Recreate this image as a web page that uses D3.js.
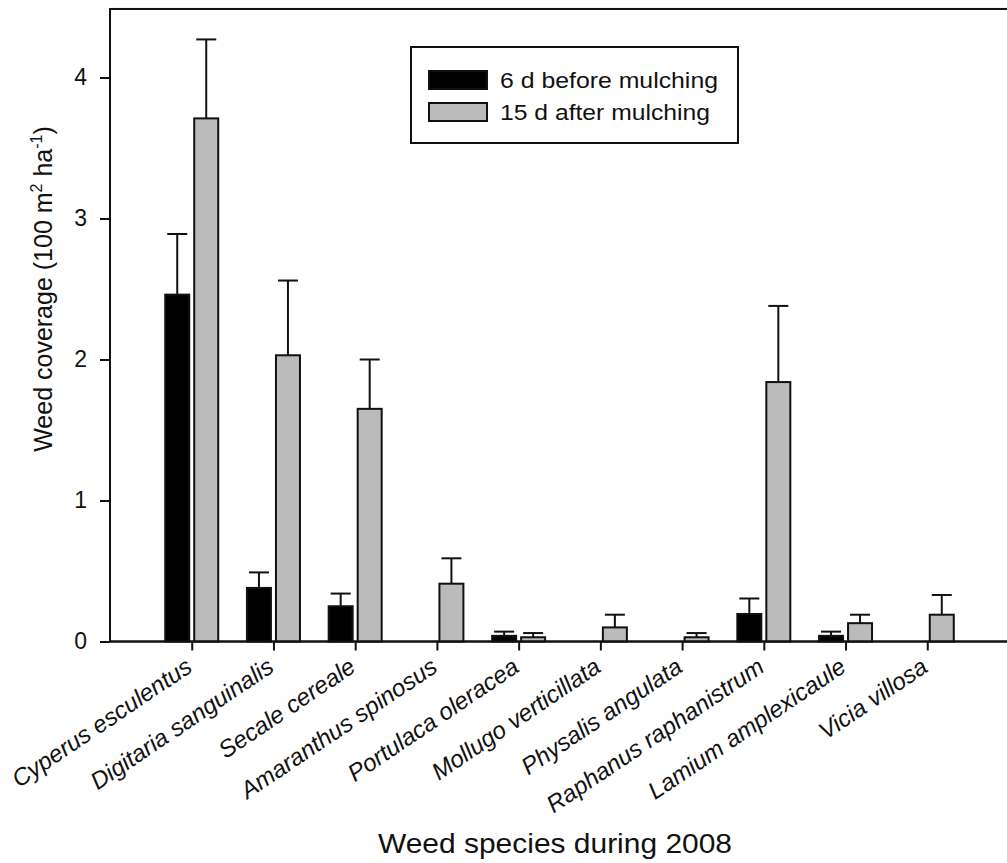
<!DOCTYPE html>
<html>
<head>
<meta charset="utf-8">
<script src="https://cdn.jsdelivr.net/npm/d3@7"></script>
<style>
  body { margin: 0; background: #fff; }
  svg text { font-family: "Liberation Sans", Arial, sans-serif; fill: #111; }
</style>
</head>
<body>
<div id="chart"></div>
<script>
const species = ["Cyperus esculentus", "Digitaria sanguinalis", "Secale cereale",
    "Amaranthus spinosus", "Portulaca oleracea", "Mollugo verticillata",
    "Physalis angulata", "Raphanus raphanistrum", "Lamium amplexicaule", "Vicia villosa"];
// null = no bar drawn
const before = [2.46, 0.38, 0.25, null, 0.04, null, null, 0.195, 0.04, null];
const beforeErr = [0.43, 0.11, 0.09, null, 0.03, null, null, 0.11, 0.03, null];
const after = [3.71, 2.03, 1.65, 0.41, 0.03, 0.10, 0.03, 1.84, 0.13, 0.19];
const afterErr = [0.56, 0.53, 0.35, 0.18, 0.03, 0.09, 0.03, 0.54, 0.06, 0.14];
const yTicks = [0, 1, 2, 3, 4];
const legendLabels = ["6 d before mulching", "15 d after mulching"];

const width = 1007, height = 863;
const mLeft = 110, mRight = 1009, mTop = 7, mBottom = 641.5;

const svg = d3.select("#chart").append("svg")
    .attr("width", width)
    .attr("height", height);

const x = d3.scalePoint().domain(species).range([mLeft, mRight]).padding(1);
const y = d3.scaleLinear().domain([0, 4.5]).range([mBottom, mTop]);

const barW = 24, gap = 2.5;

// frame (top line + left, right side runs off the page)
svg.append("rect")
    .attr("x", mLeft).attr("y", y(4.486))
    .attr("width", mRight - mLeft + 5).attr("height", mBottom - y(4.486))
    .attr("fill", "none").attr("stroke", "#111").attr("stroke-width", 2);

const series = [
    { vals: before, errs: beforeErr, fill: "#000", off: -gap - barW },
    { vals: after, errs: afterErr, fill: "#bbbbbb", off: gap }
];

series.forEach(s => {
    species.forEach((sp, i) => {
        const v = s.vals[i];
        if (v === null) return;
        const x0 = x(sp) + s.off;
        const cx = x0 + barW / 2;
        const yTop = y(v), yErr = y(v + s.errs[i]);
        svg.append("line")
            .attr("x1", cx).attr("x2", cx)
            .attr("y1", yTop).attr("y2", yErr)
            .attr("stroke", "#111").attr("stroke-width", 2);
        svg.append("line")
            .attr("x1", cx - 10).attr("x2", cx + 10)
            .attr("y1", yErr).attr("y2", yErr)
            .attr("stroke", "#111").attr("stroke-width", 2);
        svg.append("rect")
            .attr("x", x0).attr("y", yTop)
            .attr("width", barW).attr("height", mBottom - yTop)
            .attr("fill", s.fill).attr("stroke", "#111").attr("stroke-width", 2);
    });
});

// y axis
const yAxis = svg.append("g")
    .attr("transform", `translate(${mLeft},0)`)
    .call(d3.axisLeft(y).tickValues(yTicks).tickSize(10).tickPadding(13).tickFormat(d3.format("d")));
yAxis.select(".domain").remove();
yAxis.selectAll("line").attr("stroke", "#111").attr("stroke-width", 2);
yAxis.selectAll("text").style("font-size", "23px").attr("fill", "#111");

// x axis
const xAxis = svg.append("g")
    .attr("transform", `translate(0,${mBottom})`)
    .call(d3.axisBottom(x).tickSize(9).tickFormat(""));
xAxis.select(".domain").remove();
xAxis.selectAll("line").attr("stroke", "#111").attr("stroke-width", 2);

svg.append("line")
    .attr("x1", mLeft).attr("x2", width)
    .attr("y1", mBottom).attr("y2", mBottom)
    .attr("stroke", "#111").attr("stroke-width", 2);

// rotated category labels
svg.append("g").selectAll("text")
    .data(species)
    .join("text")
    .attr("transform", d => `translate(${x(d) + 2},${mBottom + 29}) rotate(-34)`)
    .attr("text-anchor", "end")
    .style("font-size", "24px")
    .style("font-style", "italic")
    .text(d => d);

// axis titles
svg.append("text")
    .attr("x", 378).attr("y", 853)
    .attr("textLength", 354).attr("lengthAdjust", "spacingAndGlyphs")
    .style("font-size", "28px")
    .text("Weed species during 2008");

const yTitle = svg.append("text")
    .attr("transform", "translate(52,289) rotate(-90)")
    .attr("text-anchor", "middle")
    .style("font-size", "25px");
yTitle.append("tspan").text("Weed coverage (100 m");
yTitle.append("tspan").attr("dy", -10).style("font-size", "16px").text("2");
yTitle.append("tspan").attr("dy", 10).text(" ha");
yTitle.append("tspan").attr("dy", -10).style("font-size", "16px").text("-1");
yTitle.append("tspan").attr("dy", 10).text(")");

// legend
const lg = svg.append("g");
lg.append("rect")
    .attr("x", 411).attr("y", 47)
    .attr("width", 327).attr("height", 96)
    .attr("fill", "#fff").attr("stroke", "#111").attr("stroke-width", 2);
[["#000", 71, 218], ["#bbbbbb", 103, 210]].forEach((d, i) => {
    lg.append("rect")
        .attr("x", 429).attr("y", d[1])
        .attr("width", 58).attr("height", 18)
        .attr("fill", d[0]).attr("stroke", "#111").attr("stroke-width", 2);
    lg.append("text")
        .attr("x", 500).attr("y", d[1] + 17)
        .attr("textLength", d[2]).attr("lengthAdjust", "spacingAndGlyphs")
        .style("font-size", "22px")
        .text(legendLabels[i]);
});
</script>
</body>
</html>
